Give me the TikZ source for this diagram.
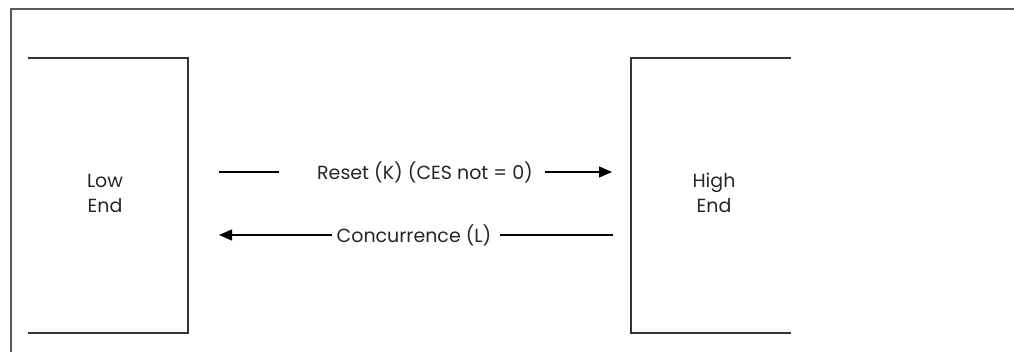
\documentclass[tikz,border=0pt]{standalone}
\usepackage{fontspec}
\setmainfont{Poppins}
\usetikzlibrary{arrows.meta}
\begin{document}
\begin{tikzpicture}[x=1pt,y=-1pt,
  frame/.style={draw=black!65,line width=1.5pt},
  boxline/.style={draw=black!80,line width=1.8pt},
  conn/.style={draw=black,line width=1.3pt},
  lbl/.style={font=\fontsize{19}{25}\selectfont, inner sep=0pt, text=black!85},
  tip/.style={-{Triangle[length=13pt,width=11pt]}}]
\useasboundingbox (0,0) rectangle (1014,352);
\draw[frame] (1014,9) -- (11,9) -- (11,352);
\draw[boxline] (28,58) -- (188,58) -- (188,333) -- (28,333);
\draw[boxline] (791,58) -- (631,58) -- (631,333) -- (791,333);
\node[lbl, align=center] (low) at (105,193) {Low\\End};
\node[lbl, align=center] (high) at (714,193) {High\\End};
\node[lbl] (reset) at (425,172) {Reset (K) (CES not = 0)};
\node[lbl] (conc) at (414,235) {Concurrence (L)};
\coordinate (r1) at (219,172);
\coordinate (r2) at (279,172);
\coordinate (r3) at (545,172);
\coordinate (r4) at (612,172);
\coordinate (c1) at (613,235);
\coordinate (c2) at (500,235);
\coordinate (c3) at (332,235);
\coordinate (c4) at (219,235);
\draw[conn] (r1) -- (r2);
\draw[conn,tip] (r3) -- (r4);
\draw[conn] (c1) -- (c2);
\draw[conn,tip] (c3) -- (c4);
\end{tikzpicture}
\end{document}
